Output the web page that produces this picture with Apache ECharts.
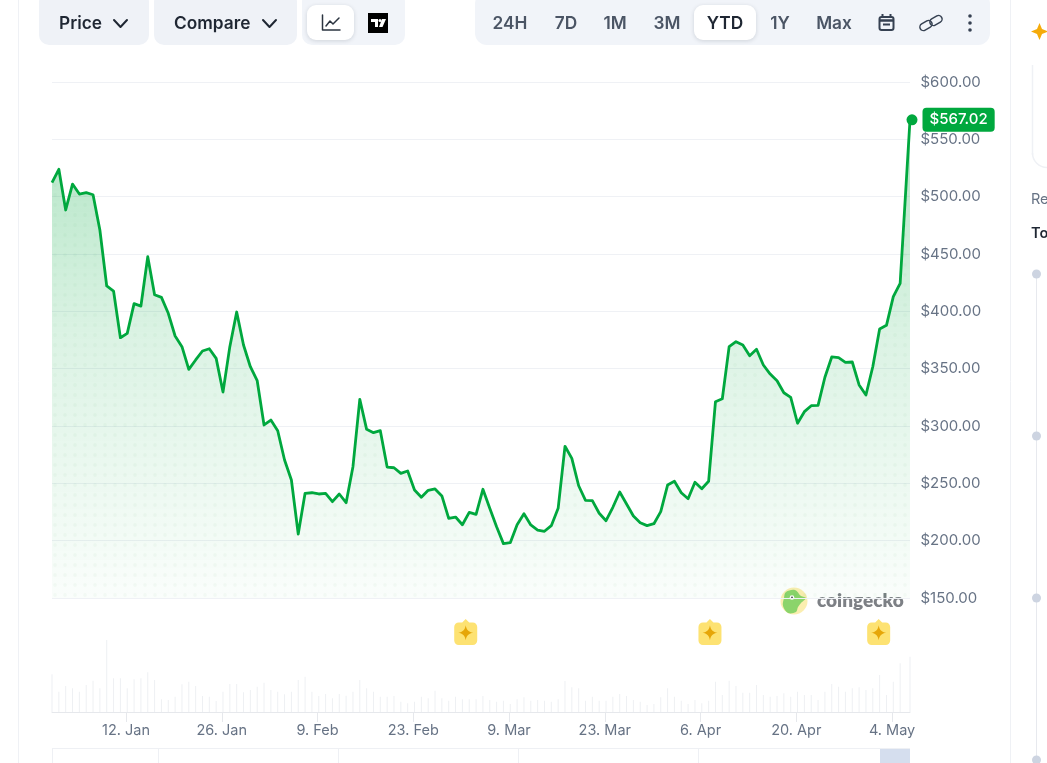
<!DOCTYPE html>
<html>
<head>
<meta charset="utf-8">
<style>html,body{margin:0;padding:0;background:#fff;overflow:hidden}#c{width:1047px;height:763px}</style>
<script src="https://cdn.jsdelivr.net/npm/echarts@6/dist/echarts.min.js"></script>
</head>
<body>
<div id="c"></div>
<script>
const firstPointIso = '2026-01-01T04:20:00Z';
const lastPointIso = '2026-05-06T14:55:00Z';
const prices = [512.2,523.9,488.4,511,502.3,503.5,501.7,470.9,422.1,417.7,377,380.8,406.7,404.6,447.6,414.5,412.2,398.3,378.5,369.2,349.4,357.6,365.4,367.4,359,329.6,369.2,399.4,370.6,351.7,339.5,300.9,305.2,295.9,270.3,252.9,205.8,241.3,241.8,240.7,241.3,234,240.7,233.1,264.5,323.3,297.1,294.2,295.9,264.2,263.6,258.7,260.8,244.2,237.8,243.9,245.1,239,219.5,220.6,213.9,224.7,223,244.8,228.2,212.2,197.4,198.2,213.9,223.5,213.7,209.3,208.2,213.1,228.2,282.3,271.8,247.9,235.2,234.9,223.9,217.4,229.1,242.4,232,221.5,215.7,213.1,214.8,225.3,248.5,251.8,241.8,236.6,250.9,245.3,251.8,321.2,323.8,369.2,373.5,370.6,361.3,366.9,353.2,345.3,339.5,329,325,302.4,312.5,317.7,318,342.5,360.2,359.6,355.5,355.8,335.8,327,351.7,384.6,387.8,412.8,424.4,567.02];
const volumes = [113,61,78,71,61,81,94,71,216,101,101,71,98,101,119,96,38,36,46,83,91,78,48,46,33,61,84,84,59,66,76,88,66,61,53,61,96,106,61,48,54,41,54,49,61,96,71,61,46,46,48,31,26,31,46,41,64,41,34,46,38,38,38,48,36,31,34,24,38,44,34,36,34,31,38,93,74,71,34,46,34,34,46,54,48,36,31,21,24,44,71,46,34,24,36,26,34,91,51,94,78,58,58,81,51,46,48,56,46,61,51,51,36,61,84,76,61,71,74,66,71,111,51,91,146,166];
const tickDates = ['2026-01-12','2026-01-26','2026-02-09','2026-02-23','2026-03-09','2026-03-23','2026-04-06','2026-04-20','2026-05-04'];
const tickLabels = ['12. Jan','26. Jan','9. Feb','23. Feb','9. Mar','23. Mar','6. Apr','20. Apr','4. May'];
const eventDates = ['2026-03-02T16:00:00Z','2026-04-07T09:00:00Z','2026-05-02T01:00:00Z'];
const rangeLabels = ['24H','7D','1M','3M','YTD','1Y','Max'];
const rangeCentres = [510,566,615,667,725,780,834];

const GREEN = '#00a83e', DAY = 86400000;
const t0 = Date.parse(firstPointIso), tEnd = Date.parse(lastPointIso);
const times = prices.map((_, i) => i === prices.length - 1 ? tEnd : t0 + i * DAY);
const priceData = prices.map((v, i) => [times[i], v]);
const volumeData = volumes.map((v, i) => [times[i], v]);
const tickTimes = tickDates.map(d => Date.parse(d + 'T00:00:00Z'));

const dots = document.createElement('canvas');
dots.width = dots.height = 10;
const g = dots.getContext('2d');
g.fillStyle = 'rgba(0,130,60,0.035)';
g.beginPath(); g.arc(5, 5, 1.9, 0, Math.PI * 2); g.fill();

const FONT = 'Inter, "Noto Sans", sans-serif';
const star = 'M12 0C13 7 17 11 24 12C17 13 13 17 12 24C11 17 7 13 0 12C7 11 11 7 12 0Z';
const badge = 'M11.5 0L15 3.4H18.5C21 3.4 23 5.4 23 7.9V21.5C23 24 21 26 18.5 26H4.5C2 26 0 24 0 21.5V7.9C0 5.4 2 3.4 4.5 3.4H8Z';

const box = (x, y, w, h, r, fill, extra) => Object.assign({type: 'rect', silent: true, shape: {x, y, width: w, height: h, r}, style: {fill}}, extra || {});
const txt = (x, y, text, font, fill, align) => ({type: 'text', silent: true, style: {x, y, text, font, fill, align: align || 'center', verticalAlign: 'middle'}});
const ln = (x1, y1, x2, y2, stroke, w) => ({type: 'line', silent: true, shape: {x1, y1, x2, y2}, style: {stroke, lineWidth: w || 1, fill: null}});
const poly = (points, stroke, w) => ({type: 'polyline', silent: true, shape: {points}, style: {stroke, lineWidth: w, fill: null, lineJoin: 'round', lineCap: 'round'}});
const BTN = '600 17.3px ' + FONT, RNG = '600 17.3px ' + FONT;
const shadow = {shadowBlur: 4, shadowColor: 'rgba(16,24,40,0.15)', shadowOffsetY: 1};
const chip = (cx, cy, w, h, r, deg) => ({type: 'rect', silent: true, x: cx, y: cy, rotation: deg * Math.PI / 180, shape: {x: -w / 2, y: -h / 2, width: w, height: h, r}, style: {fill: 'none', stroke: '#364152', lineWidth: 1.5}});

const graphics = [
  ln(18.5, 0, 18.5, 763, '#eff1f5'), ln(1010.5, 0, 1010.5, 763, '#eff1f5'),
  box(39, -8, 110, 53, 10, '#eff2f7'), txt(59, 23.5, 'Price', BTN, '#1f2733', 'left'),
  poly([[114, 20], [120.5, 27], [127, 20]], '#1f2733', 2),
  box(154, -8, 143, 53, 10, '#eff2f7'), txt(174, 23.5, 'Compare', BTN, '#1f2733', 'left'),
  poly([[263, 20], [269.5, 27], [276, 20]], '#1f2733', 2),
  box(302, -8, 103, 53, 10, '#f1f4f9'), box(307, 5, 47, 35, 9, '#fff', {style: Object.assign({fill: '#fff'}, shadow)}),
  poly([[322.5, 15], [322.5, 30], [340, 30]], '#2b3440', 1.5),
  poly([[326, 26], [330, 21], [333, 24], [339, 18]], '#2b3440', 1.5),
  box(368, 13, 20, 20, 0, '#000'),
  {type: 'polygon', silent: true, shape: {points: [[371, 19], [378, 19], [378, 27], [375, 27], [375, 22], [371, 22]]}, style: {fill: '#fff'}},
  {type: 'circle', silent: true, shape: {cx: 380, cy: 20.5, r: 1.5}, style: {fill: '#fff'}},
  {type: 'polygon', silent: true, shape: {points: [[382, 19], [386, 19], [382.5, 27], [379, 27]]}, style: {fill: '#fff'}},
  box(475, -8, 515, 53, 12, '#f1f4f9'), box(694, 5, 62, 35, 9, '#fff', {style: Object.assign({fill: '#fff'}, shadow)}),
  ...rangeLabels.map((t, i) => txt(rangeCentres[i], 23.5, t, RNG, t === 'YTD' ? '#1f2733' : '#4b5565')),
  box(879.5, 17, 14, 13, 2, '#fff', {style: {fill: 'none', stroke: '#364152', lineWidth: 2}}),
  ln(879, 20.5, 894, 20.5, '#364152', 2.5), ln(882.5, 14, 882.5, 17, '#364152', 2), ln(890.5, 14, 890.5, 17, '#364152', 2),
  ln(883, 24.5, 890, 24.5, '#364152', 2),
  chip(926, 25.5, 13, 7, 3.5, 30), chip(936, 20.5, 13, 7, 3.5, 30),
  ...[16, 23, 30].map(y => ({type: 'circle', silent: true, shape: {cx: 970, cy: y, r: 1.8}, style: {fill: '#364152'}})),
  {type: 'circle', silent: true, shape: {cx: 794, cy: 601, r: 13.5}, style: {fill: '#fbeeb0'}},
  {type: 'polygon', silent: true, shape: {smooth: 0.35, points: [[786, 592], [795, 590], [801, 596], [806, 598], [801, 603], [798, 607], [796, 612], [788, 613], [783, 606], [784, 598]]}, style: {fill: '#8bd46b'}},
  {type: 'circle', silent: true, shape: {cx: 792, cy: 597.5, r: 2.3}, style: {fill: '#fff'}},
  {type: 'circle', silent: true, shape: {cx: 792, cy: 597.5, r: 1}, style: {fill: '#555'}},
  txt(817, 600.5, 'coingecko', '800 19px Lato, "Noto Sans", sans-serif', '#7d8085', 'left'),
  ln(52, 748.5, 910, 748.5, '#eef0f4'),
  ...[52.5, 158.5, 338.5, 518.5, 698.5].map(x => ln(x, 748, x, 763, '#eef0f4')),
  box(880, 749, 30, 14, 0, '#d5deee'),
  {type: 'polygon', silent: true, shape: {points: [[1039.5, 23], [1042, 29], [1048, 31.5], [1042, 34], [1039.5, 40], [1037, 34], [1031, 31.5], [1037, 29]]}, style: {fill: '#f5ab0b'}},
  ln(1032.5, 65, 1032.5, 155, '#eff1f5', 1.5),
  {type: 'arc', silent: true, shape: {cx: 1047, cy: 153, r: 14.5, startAngle: Math.PI / 2, endAngle: Math.PI}, style: {stroke: '#eff1f5', lineWidth: 1.5, fill: null}},
  txt(1031, 200, 'Re', '400 14.5px ' + FONT, '#677385', 'left'),
  txt(1031, 233.5, 'To', '600 14.5px ' + FONT, '#1f2733', 'left'),
  ln(1036.5, 274, 1036.5, 763, '#e7e9ee'),
  ...[274, 436, 598, 760].map(y => ({type: 'circle', silent: true, shape: {cx: 1036.5, cy: y, r: 4.5}, style: {fill: '#cdd4e1'}}))
];

const chart = echarts.init(document.getElementById('c'));
chart.setOption({
  animation: false,
  textStyle: {fontFamily: FONT},
  grid: [
    {left: 52, right: 137, top: 82, height: 516},
    {left: 52, right: 137, top: 620, height: 92}
  ],
  xAxis: [
    {type: 'value', gridIndex: 0, min: t0, max: tEnd, show: false, scale: true},
    {type: 'value', gridIndex: 1, min: t0, max: tEnd, scale: true, splitLine: {show: false},
      axisLine: {show: true, onZero: false, lineStyle: {color: '#e6e8ec', width: 1}},
      axisTick: {show: true, customValues: tickTimes, length: 10, lineStyle: {color: '#e6e8ec'}},
      axisLabel: {customValues: tickTimes, margin: 11, color: '#677385', fontSize: 14.5, fontFamily: FONT, hideOverlap: false,
        formatter: v => tickLabels[tickTimes.indexOf(+v)] || ''}}
  ],
  yAxis: [
    {type: 'value', gridIndex: 0, min: 150, max: 600, interval: 50, position: 'right',
      axisLine: {show: false}, axisTick: {show: false},
      splitLine: {lineStyle: {color: '#eff1f5', width: 1}},
      axisLabel: {color: '#677385', fontSize: 15, fontFamily: FONT, margin: 10.5, padding: [5, 0, 0, 0], formatter: v => '$' + v.toFixed(2)}},
    {type: 'value', gridIndex: 1, min: 0, max: 276, show: false}
  ],
  series: [
    {name: 'Price', type: 'line', data: priceData, xAxisIndex: 0, yAxisIndex: 0, showSymbol: false, z: 3,
      lineStyle: {color: GREEN, width: 2.8, join: 'round'}, clip: false,
      areaStyle: {origin: 'start', opacity: 1, color: {type: 'linear', x: 0, y: 0, x2: 0, y2: 1, colorStops: [
        {offset: 0, color: 'rgba(0,168,62,0.30)'}, {offset: 0.45, color: 'rgba(0,168,62,0.14)'}, {offset: 1, color: 'rgba(0,168,62,0.02)'}]}}},
    {name: 'Dots', type: 'line', data: priceData, xAxisIndex: 0, yAxisIndex: 0, showSymbol: false, z: 4,
      lineStyle: {width: 0, opacity: 0}, areaStyle: {origin: 'start', opacity: 1, color: {image: dots, repeat: 'repeat'}}},
    {name: 'Latest', type: 'scatter', data: [priceData[priceData.length - 1]], xAxisIndex: 0, yAxisIndex: 0, symbolSize: 11, symbolOffset: [2, 0], z: 5, clip: false,
      itemStyle: {color: GREEN, opacity: 1},
      label: {show: true, position: 'right', distance: 5, formatter: p => '$' + p.value[1].toFixed(2), color: '#fff', fontSize: 15, fontWeight: 500, fontFamily: FONT,
        backgroundColor: GREEN, borderRadius: 4, padding: [5, 7, 4, 7]}},
    {name: 'Volume', type: 'bar', data: volumeData, xAxisIndex: 1, yAxisIndex: 1, barWidth: 1, itemStyle: {color: '#eef0f3'}},
    {name: 'Events', type: 'scatter', data: eventDates.map(d => [Date.parse(d), 240]), xAxisIndex: 1, yAxisIndex: 1, z: 6,
      symbol: 'path://' + badge, symbolSize: [23, 26], itemStyle: {color: '#fde272', opacity: 1}},
    {name: 'EventStar', type: 'scatter', data: eventDates.map(d => [Date.parse(d), 238]), xAxisIndex: 1, yAxisIndex: 1, z: 7,
      symbol: 'path://' + star, symbolSize: 15, itemStyle: {color: '#e6a608', opacity: 1}}
  ],
  graphic: graphics
});
</script>
</body>
</html>
